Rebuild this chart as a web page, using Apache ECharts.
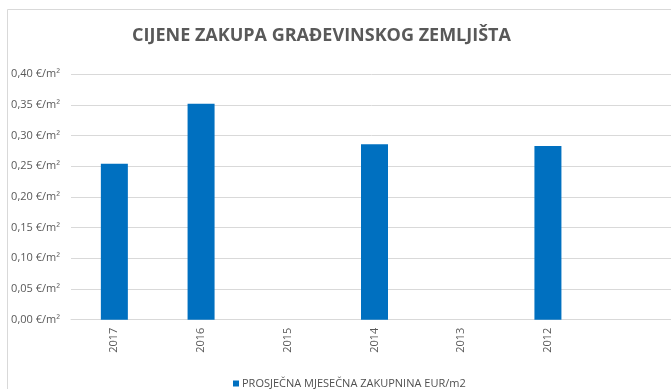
<!DOCTYPE html>
<html>
<head>
<meta charset="utf-8">
<script src="https://cdn.jsdelivr.net/npm/echarts@6/dist/echarts.min.js"></script>
<style>
  html, body { margin: 0; padding: 0; background: #fff; }
  #chart { width: 671px; height: 389px; }
</style>
</head>
<body>
<div id="chart"></div>
<script>
// Years shown on the category axis (last slot left empty)
const years = ['2017', '2016', '2015', '2014', '2013', '2012', ''];
// Average monthly rent, EUR per m2 (no data for 2015 and 2013)
const rentValues = [0.254, 0.352, null, 0.286, null, 0.283, null];
// Value axis range and step
const axisMin = 0;
const axisMax = 0.4;
const axisStep = 0.05;

const seriesName = 'PROSJEČNA MJESEČNA ZAKUPNINA EUR/m2';
const titleText = 'CIJENE ZAKUPA GRAĐEVINSKOG ZEMLJIŠTA';

const textColor = '#595959';
const lineColor = '#d9d9d9';
const font = 'Open Sans';

const chart = echarts.init(document.getElementById('chart'), null, { renderer: 'canvas' });
chart.setOption({
  animation: false,
  backgroundColor: '#fff',
  graphic: [{
    type: 'rect',
    shape: { x: 7.5, y: 9.5, width: 700, height: 400 },
    style: { fill: 'none', stroke: lineColor, lineWidth: 1 },
    silent: true
  }],
  title: {
    text: titleText,
    left: 316.5,
    top: 22,
    textAlign: 'center',
    textStyle: { fontFamily: font, fontSize: 18, fontWeight: 'bold', color: textColor }
  },
  legend: {
    data: [seriesName],
    left: 228,
    top: 373,
    icon: 'rect',
    itemWidth: 6,
    itemHeight: 6,
    itemGap: 4,
    textStyle: { fontFamily: font, fontSize: 11, color: '#505050', padding: [0, 0, 0, -2] }
  },
  // plot area runs slightly past the right edge of the canvas
  grid: {
    left: 71, right: -7, top: 74.3, bottom: 69.3,
    containLabel: false,
    outerBoundsMode: 'none'
  },
  xAxis: {
    type: 'category',
    data: years,
    axisLine: { lineStyle: { color: lineColor, width: 1 } },
    axisTick: { show: false },
    axisLabel: {
      rotate: 90,
      interval: 0,
      margin: 8,
      color: textColor,
      fontFamily: font,
      fontSize: 11
    }
  },
  yAxis: {
    type: 'value',
    min: axisMin,
    max: axisMax,
    interval: axisStep,
    axisLine: { show: false },
    axisTick: { show: false },
    splitLine: { lineStyle: { color: lineColor, width: 1 } },
    axisLabel: {
      margin: 11,
      color: textColor,
      fontFamily: font,
      fontSize: 11,
      formatter: v => v.toFixed(2).replace('.', ',') + ' €/m²'
    }
  },
  series: [{
    name: seriesName,
    type: 'bar',
    data: rentValues,
    barWidth: 27,
    itemStyle: { color: '#0070C0' }
  }]
});
</script>
</body>
</html>
